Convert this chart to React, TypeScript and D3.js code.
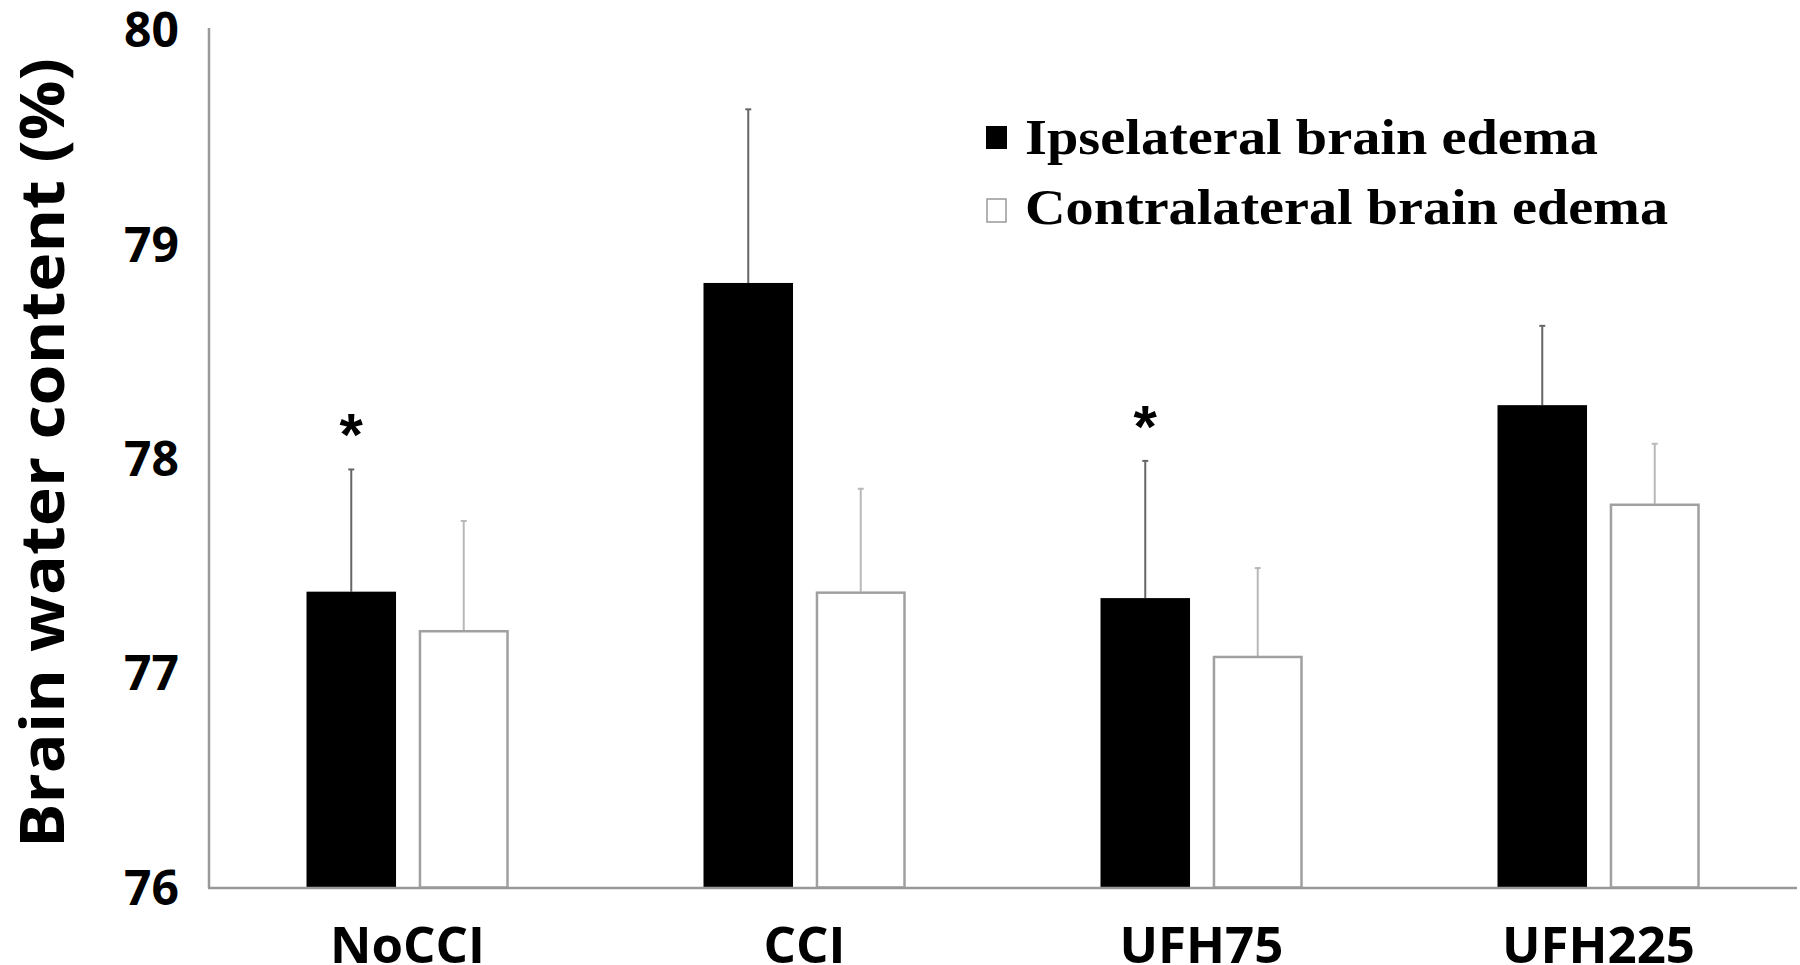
import React from "react";
import * as d3 from "d3";

const categories = ["NoCCI", "CCI", "UFH75", "UFH225"];
const seriesNames = ["Ipselateral brain edema", "Contralateral brain edema"];
const ipsiMeans = [77.38, 78.82, 77.35, 78.25];
const ipsiErr = [0.57, 0.81, 0.64, 0.37];
const contraMeans = [77.2, 77.38, 77.08, 77.79];
const contraErr = [0.51, 0.48, 0.41, 0.28];
const significant = [true, false, true, false];
const yTicks = [76, 77, 78, 79, 80];

const W = 1800;
const H = 965;

export default function App() {
  const y = d3.scaleLinear().domain([76, 80]).range([887.5, 30]);
  const x0 = d3.scaleBand<string>().domain(categories).range([209, 1797]).padding(0);
  const groupW = 202;
  const x1 = d3
    .scaleBand<string>()
    .domain(seriesNames)
    .range([0, groupW])
    .paddingInner(0.204)
    .paddingOuter(0);
  const bw = x1.bandwidth();
  const off = (x0.bandwidth() - groupW) / 2;

  const series = [
    { name: seriesNames[0], means: ipsiMeans, errs: ipsiErr, fill: "#000", stroke: "#000", err: "#666" },
    { name: seriesNames[1], means: contraMeans, errs: contraErr, fill: "#fff", stroke: "#a0a0a0", err: "#b8b8b8" },
  ];

  return (
    <svg width={W} height={H} style={{ display: "block", position: "absolute", left: 0, top: 0 }}>
      <rect x={0} y={0} width={W} height={H} fill="#fff" />
      {series.map((s) =>
        categories.map((c, i) => {
          const bx = (x0(c) as number) + off + (x1(s.name) as number);
          const top = y(s.means[i]);
          const cx = bx + bw / 2;
          const et = y(s.means[i] + s.errs[i]);
          const hollow = s.fill === "#fff";
          return (
            <g key={s.name + c}>
              <line x1={cx} x2={cx} y1={top} y2={et} stroke={s.err} strokeWidth={2} />
              <line x1={cx - 3} x2={cx + 3} y1={et} y2={et} stroke={s.err} strokeWidth={2} />
              <rect
                x={hollow ? bx + 1 : bx}
                y={hollow ? top + 1 : top}
                width={hollow ? bw - 2 : bw}
                height={y(76) - top - (hollow ? 1 : 0)}
                fill={s.fill}
                stroke={hollow ? s.stroke : "none"}
                strokeWidth={2.5}
              />
            </g>
          );
        })
      )}
      {categories.map((c, i) =>
        significant[i] ? (
          <text
            key={"ast" + c}
            x={(x0(c) as number) + off + (x1(seriesNames[0]) as number) + bw / 2}
            y={y(ipsiMeans[i] + ipsiErr[i]) - 14}
            textAnchor="middle"
            fontFamily="'Liberation Sans', Arial, sans-serif"
            fontWeight="bold"
            fontSize={60}
            fill="#000"
          >
            *
          </text>
        ) : null
      )}
      <line x1={209} x2={209} y1={28} y2={888} stroke="#999" strokeWidth={2.5} />
      <line x1={208} x2={1797} y1={888} y2={888} stroke="#999" strokeWidth={2.5} />
      {yTicks.map((t) => (
        <text
          key={"yt" + t}
          x={179}
          y={y(t)}
          dy="0.36em"
          textAnchor="end"
          fontFamily="'Open Sans', sans-serif"
          fontWeight="bold"
          fontSize={48}
          fill="#000"
        >
          {t}
        </text>
      ))}
      {categories.map((c) => (
        <text
          key={"xl" + c}
          x={(x0(c) as number) + x0.bandwidth() / 2}
          y={963}
          textAnchor="middle"
          fontFamily="'Open Sans', sans-serif"
          fontWeight="bold"
          fontSize={51}
          fill="#000"
        >
          {c}
        </text>
      ))}
      <text
        transform="translate(64,453) rotate(-90)"
        textAnchor="middle"
        fontFamily="'Open Sans', sans-serif"
        fontWeight="bold"
        fontSize={60}
        textLength={790}
        lengthAdjust="spacingAndGlyphs"
        fill="#000"
      >
        Brain water content (%)
      </text>
      <rect x={986} y={126} width={21} height={23} fill="#000" />
      <rect x={987} y={199} width={19} height={23} fill="#fff" stroke="#999" strokeWidth={1.5} />
      <text
        x={1025}
        y={154}
        fontFamily="'Liberation Serif', 'Times New Roman', serif"
        fontWeight="bold"
        fontSize={50}
        textLength={573}
        lengthAdjust="spacingAndGlyphs"
        fill="#000"
      >
        {seriesNames[0]}
      </text>
      <text
        x={1025}
        y={224}
        fontFamily="'Liberation Serif', 'Times New Roman', serif"
        fontWeight="bold"
        fontSize={50}
        textLength={643}
        lengthAdjust="spacingAndGlyphs"
        fill="#000"
      >
        {seriesNames[1]}
      </text>
    </svg>
  );
}
